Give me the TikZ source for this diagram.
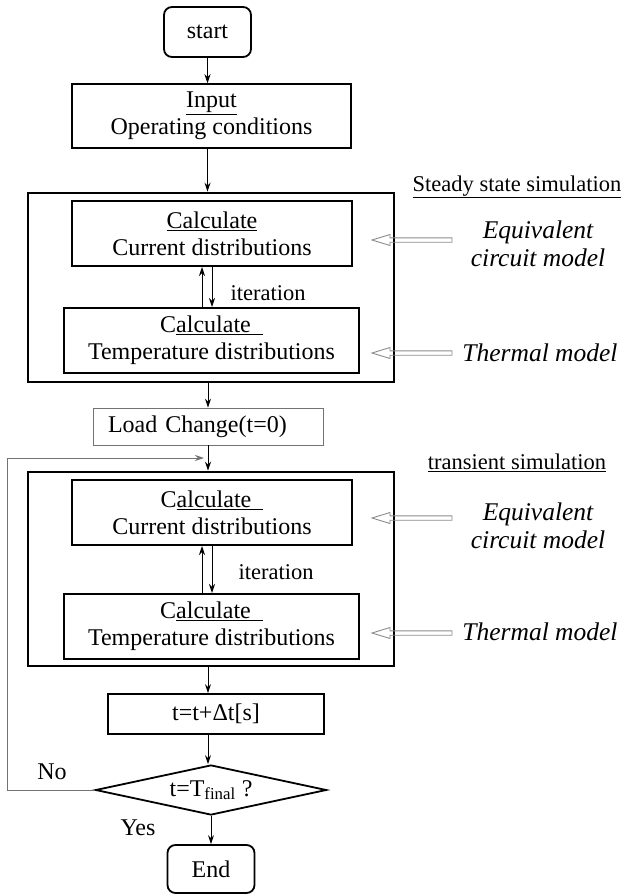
\documentclass[tikz,border=0pt]{standalone}
\usepackage{fontspec}
\setmainfont{Liberation Serif}
\usetikzlibrary{arrows.meta, positioning, shapes.geometric, calc}
\colorlet{hollowgray}{black!45}
\colorlet{thingray}{black!55}

\begin{document}
\begin{tikzpicture}[x=1pt, y=-1pt,
    every node/.style={font=\fontsize{24}{27}\selectfont, inner sep=0pt},
    flow/.style={-{Stealth[length=9pt, width=6pt]}, line width=1pt},
    outerbox/.style={draw, line width=2.6pt},
    calcbox/.style={draw, line width=2pt, align=center, minimum height=65pt},
    termbox/.style={draw, line width=1.8pt, rounded corners=8pt, minimum width=87pt},
    simlabel/.style={font=\fontsize{22.5}{25}\selectfont},
    model/.style={font=\fontsize{25.5}{28}\selectfont\itshape, align=center},
    hollow/.style={draw=hollowgray, line width=0.9pt}]
    \useasboundingbox (0,0) rectangle (623,896);

    \node[termbox, minimum height=50pt] (start) at (207.5,32) {start};
    \node[draw, line width=1.5pt, align=center, minimum width=279pt, minimum height=64pt] (input) at (211.5,116) {\underline{Input}\\Operating conditions};

    \node[outerbox, minimum width=366pt, minimum height=189pt] (steady) at (211,287.5) {};
    \node[calcbox, minimum width=280pt] (cur1) at (212,233.5) {\underline{Calculate}\\Current distributions};
    \node[calcbox, minimum width=295pt] (temp1) at (211.5,340.5) {C\underline{alculate\ \ }\\Temperature distributions};
    \node[simlabel] (iter1) at (268,293) {iteration};
    \node[simlabel] (steadylbl) at (517,187) {\underline{Steady state simulation}};
    \node[model] (eqv1) at (538,244) {Equivalent\\circuit model};
    \node[model] (therm1) at (540,353) {Thermal model};

    \node[draw=thingray, line width=0.8pt, minimum width=230pt, minimum height=37pt, text width=200pt, inner xsep=15pt, align=left] (load) at (208,426.5) {Load Change(t=0)};

    \node[outerbox, minimum width=366pt, minimum height=194pt] (trans) at (211,569) {};
    \node[calcbox, minimum width=280pt] (cur2) at (212,512.5) {C\underline{alculate\ \ }\\Current distributions};
    \node[calcbox, minimum width=295pt] (temp2) at (211.5,626.5) {C\underline{alculate\ \ }\\Temperature distributions};
    \node[simlabel] (iter2) at (276,572) {iteration};
    \node[simlabel] (translbl) at (517,463) {\underline{transient simulation}};
    \node[model] (eqv2) at (538,526) {Equivalent\\circuit model};
    \node[model] (therm2) at (540,632) {Thermal model};

    \node[draw, line width=1.8pt, minimum width=216pt, minimum height=40pt] (tstep) at (216,714) {t=t+Δt[s]};
    \node[draw, diamond, aspect=4.6, line width=1.8pt, minimum width=231pt, minimum height=50pt] (check) at (211,790) {t=T\textsubscript{final} ?};
    \node[termbox, minimum height=48pt] (end) at (211,869) {End};
    \node (nolbl) at (52,772) {No};
    \node (yeslbl) at (138,828) {Yes};

    \draw[flow] (start.south) -- (start.south |- input.north);
    \draw[flow] (input.south -| start.south) -- (steady.north -| start.south);
    \draw[flow] (steady.south -| load.north) -- (load.north);
    \draw[flow] (load.south) -- (trans.north -| load.south);
    \draw[flow] (trans.south -| load.south) -- (tstep.north -| load.south);
    \draw[flow] (tstep.south -| load.south) -- (check.north -| load.south);
    \draw[flow] (check.south) -- (end.north);

    \draw[flow] ([xshift=-9.5pt]temp1.north) -- ([xshift=-9.5pt]temp1.north |- cur1.south);
    \draw[flow] (cur1.south) -- (cur1.south |- temp1.north);
    \draw[flow] ([xshift=-9.5pt]temp2.north) -- ([xshift=-9.5pt]temp2.north |- cur2.south);
    \draw[flow] (cur2.south) -- (cur2.south |- temp2.north);

    \coordinate (loop) at (7,458);
    \coordinate (merge) at (204,458);
    \draw[flow, thingray] (check.west) -| (loop) -- (merge);

    \coordinate (tip1) at (372,240);
    \coordinate (tip2) at (372,353);
    \coordinate (tip3) at (372,518);
    \coordinate (tip4) at (372,633);
    \foreach \n in {1,...,4}
      \draw[hollow] ($(tip\n)+(80,-2.2)$) -- ($(tip\n)+(18,-2.2)$) -- ($(tip\n)+(18,-5.5)$) -- (tip\n)
        -- ($(tip\n)+(18,5.5)$) -- ($(tip\n)+(18,2.2)$) -- ($(tip\n)+(80,2.2)$) -- cycle;
  \end{tikzpicture}
\end{document}
